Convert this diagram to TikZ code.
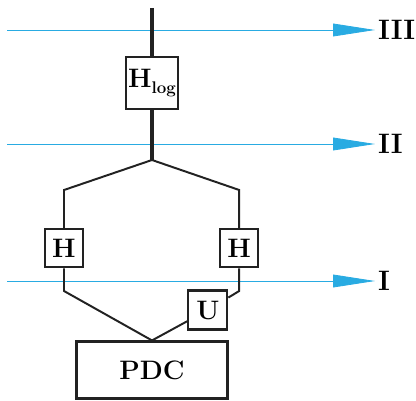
\documentclass[tikz,border=0pt]{standalone}
\usepackage{amsmath,amssymb,bm}
\usepackage{tikz}
\usepackage{xcolor}
\usetikzlibrary{arrows.meta,positioning,calc}
\definecolor{mzBlue}{RGB}{41,171,226}
\definecolor{mzInk}{RGB}{34,34,34}

\begin{document}
\begin{tikzpicture}[
      box/.style={draw=mzInk, line width=1.5pt, fill=white, align=center, inner sep=0pt, minimum size=0.95cm, font=\fontsize{19}{22}\selectfont\bfseries},
      wire/.style={draw=mzInk, line width=1.4pt},
      trunk/.style={draw=mzInk, line width=2.9pt},
      ray/.style={-{Triangle[length=1.05cm, width=0.32cm]}, line width=0.6pt, mzBlue},
      lvl/.style={anchor=west, inner sep=2pt, font=\fontsize{20}{22}\selectfont\bfseries}
    ]
      \useasboundingbox (0,0) rectangle (10.4,-10.025);
      % levels
      \foreach \y/\n/\t in {-0.75/3/III, -3.6/2/II, -7.025/1/I} {
        \coordinate (s\n) at (0.175,\y);
        \node[lvl] (n\n) at (9.375,\y) {\t};
        \draw[ray] (s\n) -- (n\n.west);
      }
      % interferometer
      \coordinate (top) at (3.8,-0.2);
      \node[box, minimum size=1.3cm] (hlog) at (3.8,-2.075) {H\raisebox{-0.5ex}{\fontsize{12}{13}\selectfont log}};
      \coordinate (split) at (3.8,-4.0);
      \coordinate (lup) at (1.6,-4.75);
      \coordinate (rup) at (5.98,-4.75);
      \node[box] (hl) at (1.6,-6.21) {H};
      \node[box] (hr) at (5.98,-6.21) {H};
      \coordinate (ldn) at (1.6,-7.275);
      \coordinate (rdn) at (5.98,-7.275);
      \node[box, minimum size=0.975cm] (u) at (5.195,-7.75) {U};
      \node[box, minimum width=3.775cm, minimum height=1.425cm] (pdc) at (3.8,-9.25) {PDC};
      \draw[trunk] (top) -- (hlog);
      \draw[trunk] (hlog) -- (split);
      \draw[wire] (split) -- (lup) -- (hl);
      \draw[wire] (split) -- (rup) -- (hr);
      \draw[wire] (hl) -- (ldn) -- (pdc.north);
      \draw[wire] (hr) -- (rdn) -- (u);
      \draw[wire] (u) -- (pdc.north);
    \end{tikzpicture}
\end{document}
